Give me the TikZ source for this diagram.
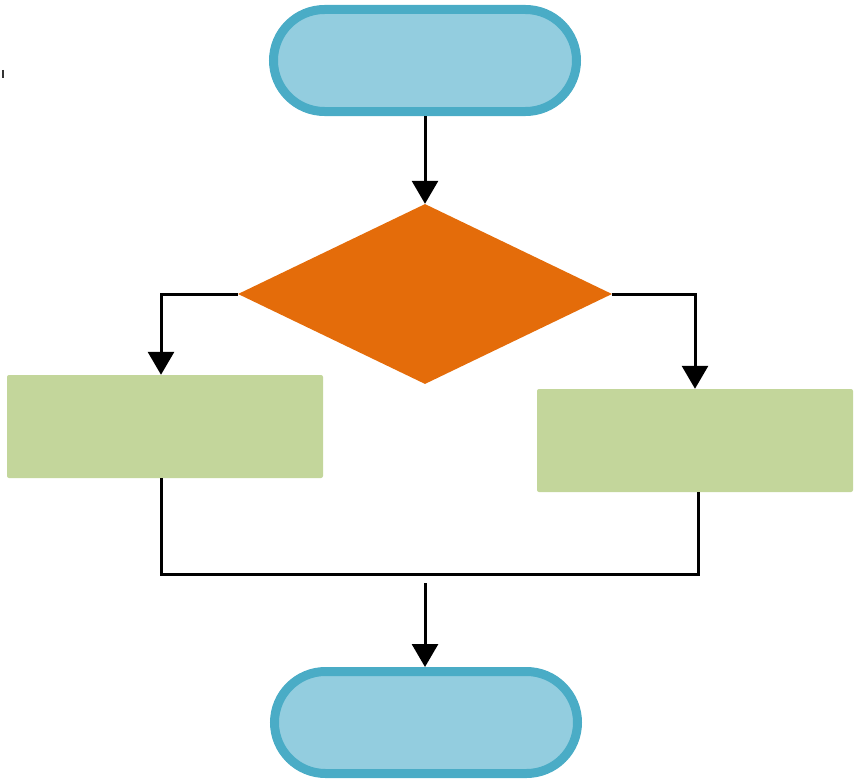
\documentclass[tikz,border=0pt]{standalone}
\usetikzlibrary{shapes.geometric,arrows.meta}
\definecolor{termfill}{HTML}{93CDDF}
\definecolor{termline}{HTML}{4AACC6}
\definecolor{decfill}{HTML}{E46C0A}
\definecolor{boxfill}{HTML}{C3D69B}
\begin{document}
\begin{tikzpicture}[x=1pt,y=-1pt,
  term/.style={draw=termline,fill=termfill,line width=9pt,minimum width=303pt,minimum height=102pt,rounded corners=51pt,inner sep=0pt},
  decision/.style={diamond,fill=decfill,minimum width=374pt,minimum height=180pt,inner sep=0pt},
  procbox/.style={fill=boxfill,minimum width=316pt,minimum height=103pt,rounded corners=2pt,inner sep=0pt},
  conn/.style={line width=3pt,black},
  arr/.style={conn,-{Triangle[width=26pt,length=23pt]}}]
\useasboundingbox (0,0) rectangle (857,784);
\node[term] (start) at (425,60.5) {};
\node[decision] (dec) at (425,294) {};
\node[procbox] (lbox) at (165,426.5) {};
\node[procbox] (rbox) at (695,440.5) {};
\node[term] (stop) at (426,722.5) {};
\coordinate (jl) at (161,574);
\coordinate (jr) at (698,574);
\coordinate (jm) at (425,583);
\draw[arr] (start.south) -- (dec.north);
\draw[arr] (dec.west) -| ([xshift=-4pt]lbox.north);
\draw[arr] (dec.east) -| (rbox.north);
\draw[conn] (jl |- lbox.south) -- (jl) -- (jr) -- (jr |- rbox.south);
\draw[arr] (jm) -- (jm |- stop.north);
\draw[line width=2.5pt,black!80] (3,70) -- (3,78);
\end{tikzpicture}
\end{document}
